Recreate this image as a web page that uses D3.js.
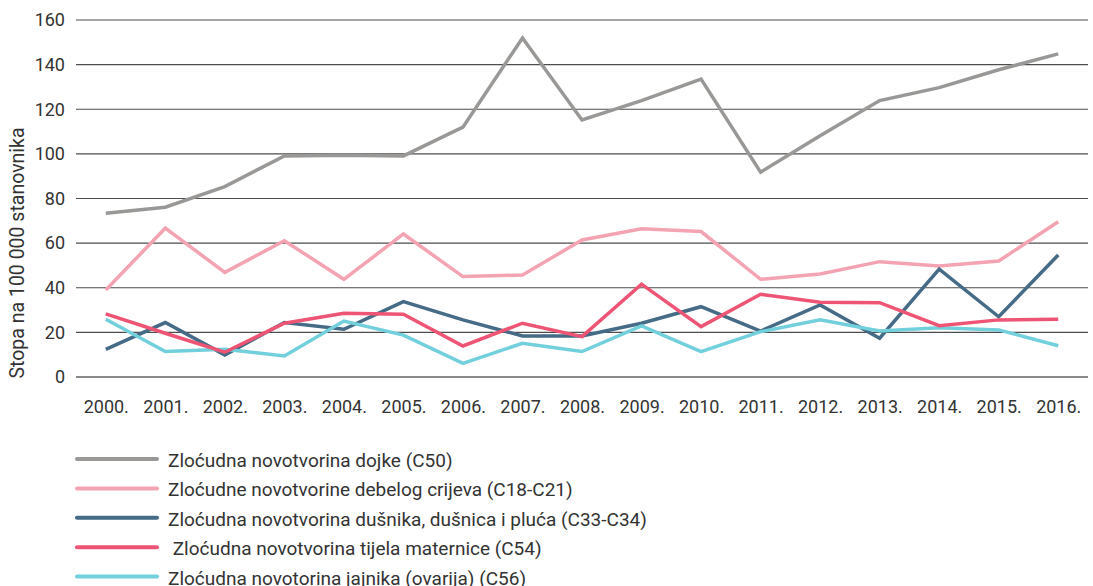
<!DOCTYPE html>
<html>
<head>
<meta charset="utf-8">
<script src="https://cdn.jsdelivr.net/npm/d3@7"></script>
<style>
  body { margin: 0; background: #fff; }
  svg text { font-family: Roboto, "Open Sans", sans-serif; fill: #333; }
</style>
</head>
<body>
<svg class="svgChart"></svg>
<script>
// chart data
var years = ['2000.', '2001.', '2002.', '2003.', '2004.', '2005.', '2006.', '2007.', '2008.',
             '2009.', '2010.', '2011.', '2012.', '2013.', '2014.', '2015.', '2016.'];
var yTicks = [0, 20, 40, 60, 80, 100, 120, 140, 160];

var dojke    = [73.4, 76.1, 85.3, 99.1, 99.4, 99.1, 112.0, 151.9, 115.2, 123.9, 133.5, 91.8, 108.1, 123.9, 129.7, 137.7, 144.8];
var crijevo  = [39.0, 66.7, 46.9, 61.1, 43.8, 64.1, 45.0, 45.7, 61.4, 66.4, 65.2, 43.8, 46.2, 51.7, 49.8, 52.0, 69.6];
var pluca    = [12.4, 24.4, 9.9, 24.4, 21.4, 33.8, 25.6, 18.4, 18.4, 24.1, 31.5, 20.6, 32.3, 17.4, 48.3, 27.0, 54.7];
var maternica = [28.3, 19.6, 11.1, 24.1, 28.6, 28.1, 13.9, 24.1, 18.1, 41.6, 22.6, 37.1, 33.5, 33.3, 23.0, 25.6, 25.9];
var jajnik   = [25.9, 11.4, 12.4, 9.4, 25.1, 18.8, 6.1, 15.1, 11.4, 22.9, 11.4, 20.3, 25.6, 20.6, 22.1, 21.1, 14.0];

var seriesNames = [
  'Zloćudna novotvorina dojke (C50)',
  'Zloćudne novotvorine debelog crijeva (C18-C21)',
  'Zloćudna novotvorina dušnika, dušnica i pluća (C33-C34)',
  ' Zloćudna novotvorina tijela maternice (C54)',
  'Zloćudna novotorina jajnika (ovarija) (C56)'
];
var seriesColors = ['#9a9896', '#f4a3b3', '#456b86', '#ee5474', '#72cfdc'];
var seriesValues = [dojke, crijevo, pluca, maternica, jajnik];

// dimensions
var W = 1093, H = 586;
var margin = { top: 20, right: 5, bottom: 209, left: 76 };

var svg = d3.select('.svgChart')
    .attr('width', W)
    .attr('height', H);

var g = svg.append('g')
    .attr('transform', 'translate(' + margin.left + ',' + margin.top + ')');

var xScale = d3.scalePoint()
    .domain(years)
    .range([0, 1012])
    .padding(0.5);

var yScale = d3.scaleLinear()
    .domain([0, 160])
    .range([357, 0]);

// gridlines
g.append('g')
    .attr('class', 'grid')
  .selectAll('line')
  .data(yTicks)
  .enter()
  .append('line')
    .attr('x1', 0)
    .attr('x2', 1012)
    .attr('y1', d => yScale(d))
    .attr('y2', d => yScale(d))
    .attr('stroke', d => d === 0 ? '#8a8a8a' : '#4d4d4d')
    .attr('stroke-width', d => d === 0 ? 2 : 1.2);

// y axis labels
var yAxis = d3.axisLeft(yScale).tickValues(yTicks).tickSize(0).tickPadding(11);
g.append('g')
    .attr('class', 'yAxis')
    .call(yAxis)
    .call(a => a.select('.domain').remove())
    .selectAll('text')
      .attr('font-size', 18)
      .attr('font-family', 'Roboto, sans-serif')
      .style('fill', '#333');

// x axis labels
var xAxis = d3.axisBottom(xScale).tickSize(0).tickPadding(23);
g.append('g')
    .attr('class', 'xAxis')
    .attr('transform', 'translate(0,' + yScale(0) + ')')
    .call(xAxis)
    .call(a => a.select('.domain').remove())
    .selectAll('text')
      .attr('font-size', 18)
      .attr('font-family', 'Roboto, sans-serif')
      .style('fill', '#333');

// y axis title
svg.append('text')
    .attr('transform', 'translate(24,253) rotate(-90)')
    .attr('text-anchor', 'middle')
    .attr('font-size', 19.5)
    .text('Stopa na 100 000 stanovnika');

// lines
var line = d3.line()
    .x((d, i) => xScale(years[i]))
    .y(d => yScale(d));

var drawOrder = [0, 1, 2, 4, 3];
g.append('g')
    .attr('class', 'lines')
  .selectAll('path')
  .data(drawOrder)
  .enter()
  .append('path')
    .attr('d', d => line(seriesValues[d]))
    .attr('fill', 'none')
    .attr('stroke', d => seriesColors[d])
    .attr('stroke-width', 3.5)
    .attr('stroke-linejoin', 'miter');

// legend
var legend = svg.append('g')
    .attr('class', 'legend')
    .attr('transform', 'translate(77,459)')
  .selectAll('g')
  .data(seriesNames)
  .enter()
  .append('g')
    .attr('transform', (d, i) => 'translate(0,' + i * 29.4 + ')');

legend.append('line')
    .attr('x1', 0)
    .attr('x2', 80)
    .attr('stroke', (d, i) => seriesColors[i])
    .attr('stroke-width', 4)
    .attr('stroke-linecap', 'round');

legend.append('text')
    .attr('x', 91)
    .attr('y', 2)
    .attr('dy', '0.32em')
    .attr('font-size', 19)
    .style('white-space', 'pre')
    .text(d => d);
</script>
</body>
</html>
